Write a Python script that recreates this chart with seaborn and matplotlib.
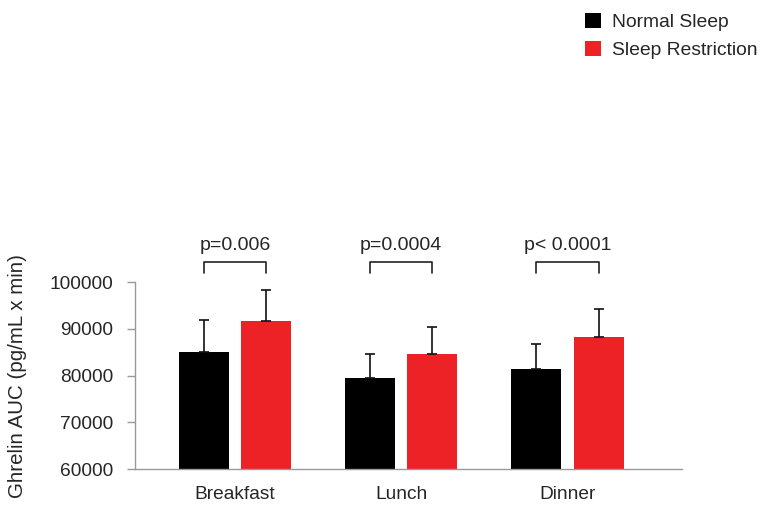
import pandas as pd
import matplotlib
matplotlib.use("Agg")
import matplotlib.pyplot as plt
import seaborn as sns

# values
meals = ["Breakfast", "Lunch", "Dinner"]
conditions = ["Normal Sleep", "Sleep Restriction"]
normal_auc = [85100, 79400, 81400]
restricted_auc = [91600, 84700, 88300]
normal_sem = [6800, 5300, 5450]
restricted_sem = [6700, 5600, 5850]
p_labels = ["p=0.006", "p=0.0004", "p< 0.0001"]

df = pd.DataFrame({
    "Meal": meals * 2,
    "Condition": [conditions[0]] * 3 + [conditions[1]] * 3,
    "AUC": normal_auc + restricted_auc,
})

sns.set_style("white")
plt.rcParams["font.family"] = ["Liberation Sans", "DejaVu Sans"]

fig = plt.figure(figsize=(7.64, 5.11), dpi=100)
ax = fig.add_axes([0.177, 0.082, 0.716, 0.366])

sns.barplot(data=df, x="Meal", y="AUC", hue="Condition", order=meals,
            hue_order=conditions, palette=["#000000", "#ec2227"],
            errorbar=None, width=0.75, gap=0.2, saturation=1,
            edgecolor="none", ax=ax)

# upper-only error bars at the bar centres
sems = normal_sem + restricted_sem
heights = normal_auc + restricted_auc
bars = ax.patches[:6]
xs = [b.get_x() + b.get_width() / 2 for b in bars]
ax.errorbar(xs, heights, yerr=[[0] * 6, sems], fmt="none", ecolor="#111111",
            elinewidth=1.2, capsize=3.6, capthick=1.2, zorder=3)

# significance brackets
for i, label in enumerate(p_labels):
    x0, x1 = xs[i], xs[i + 3]
    ax.plot([x0, x0, x1, x1], [102000, 104300, 104300, 102000],
            color="#222222", lw=1.2, clip_on=False)
    ax.text((x0 + x1) / 2, 106800, label, ha="center", va="baseline",
            fontsize=14, clip_on=False)

ax.set_ylim(60000, 100000)
ax.set_xlim(-0.6, 2.69)
ax.set_yticks([60000, 70000, 80000, 90000, 100000])
ax.set_xlabel("")
ax.set_ylabel("Ghrelin AUC (pg/mL x min)", fontsize=14.8)
ax.yaxis.set_label_coords(-0.198, 0.5)
ax.tick_params(axis="y", labelsize=13.8, length=6, width=1, color="#999999",
               pad=10, left=True)
ax.tick_params(axis="x", labelsize=13.8, length=0, pad=12)

sns.despine(ax=ax)
for side in ["left", "bottom"]:
    ax.spines[side].set_color("#999999")
    ax.spines[side].set_linewidth(1)

leg = ax.legend(loc="upper right", bbox_to_anchor=(1.001, 0.989),
                bbox_transform=fig.transFigure, frameon=False, fontsize=13.9,
                handlelength=0.85, handleheight=0.8, handletextpad=0.55,
                labelspacing=0.5, borderaxespad=0)

fig.savefig("out.png", dpi=100)
